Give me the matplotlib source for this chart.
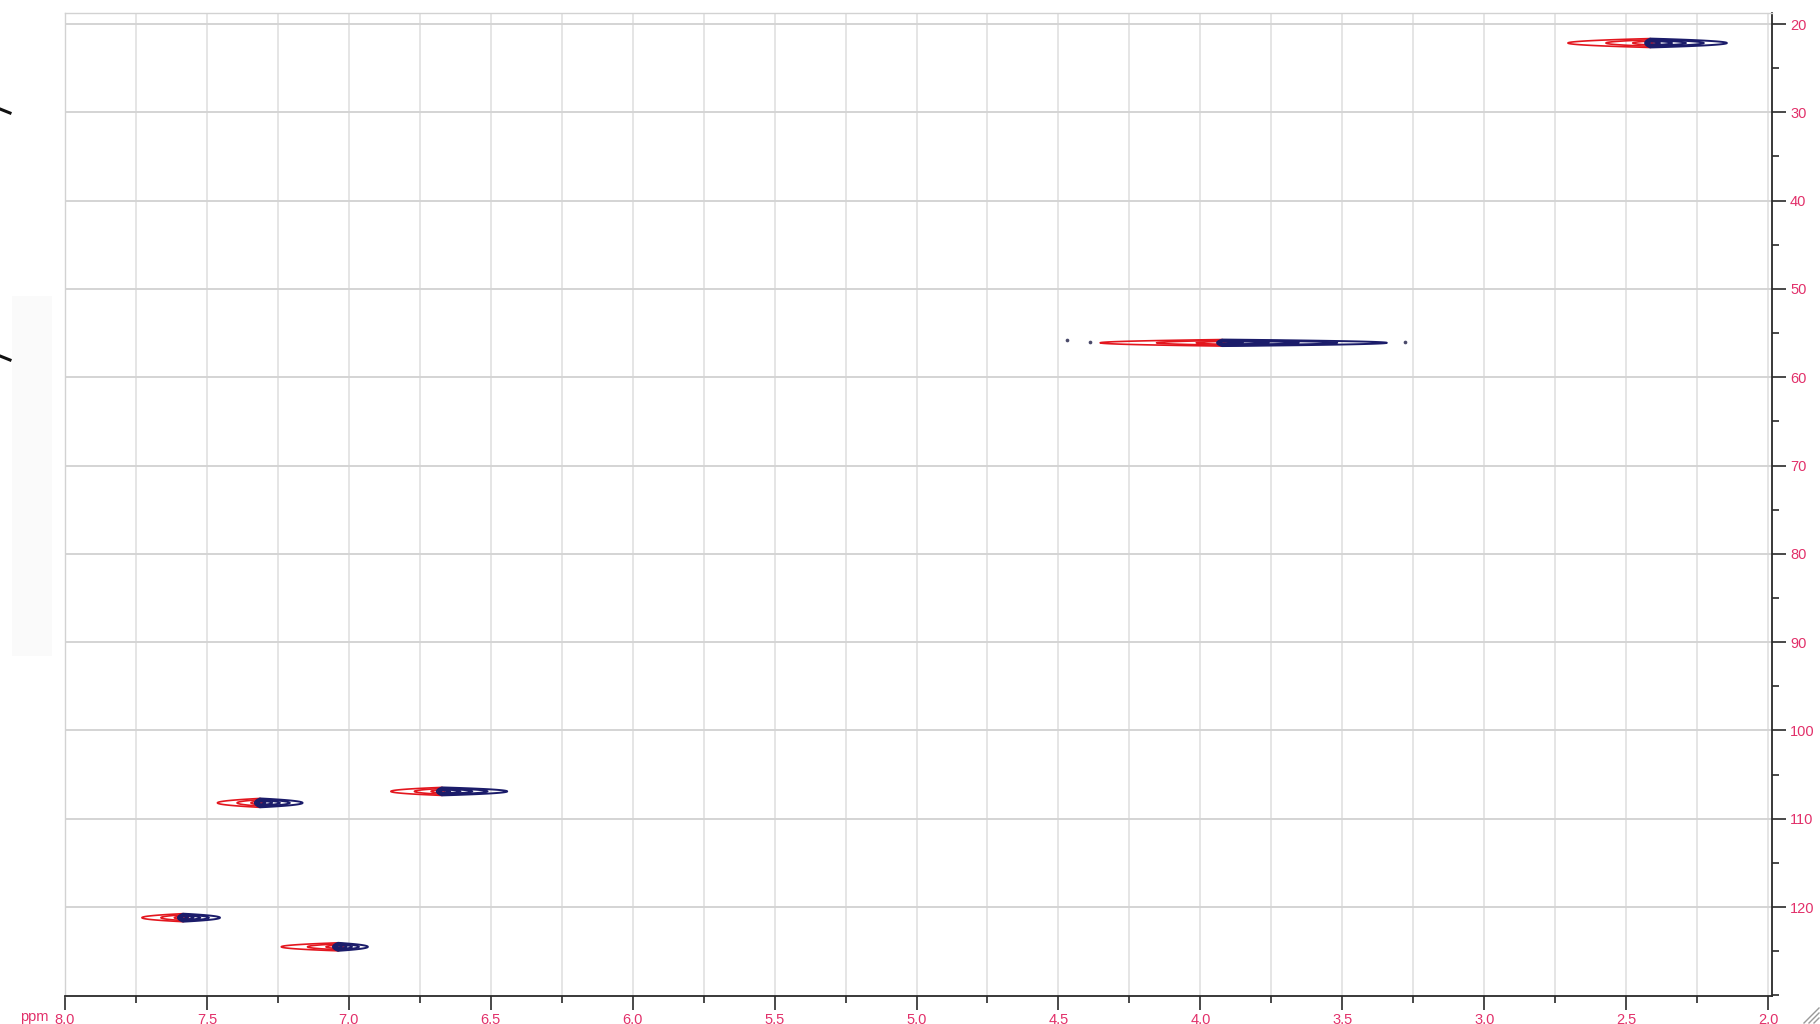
import numpy as np
import matplotlib
matplotlib.use("Agg")
import matplotlib.pyplot as plt
from matplotlib.ticker import MultipleLocator, FuncFormatter
from matplotlib.lines import Line2D
from matplotlib.patches import Rectangle

# HSQC cross peaks: junction position (1H, 13C) and extent of each overlaid spectrum
peak_h = [2.415, 3.923, 7.313, 6.672, 7.584, 7.038]      # 1H ppm
peak_c = [22.15, 56.1, 108.2, 106.9, 121.2, 124.5]       # 13C ppm
red_span = [0.29, 0.43, 0.15, 0.18, 0.145, 0.20]          # ppm toward low field
blue_span = [0.27, 0.58, 0.15, 0.23, 0.13, 0.105]         # ppm toward high field
peak_width_c = [0.30, 0.22, 0.30, 0.27, 0.27, 0.27]       # 13C line width

# weak isolated artefacts around the 56 ppm correlation
speck_h = [4.47, 4.39, 3.28]
speck_c = [55.8, 56.0, 56.0]

x_ticks = [8.0, 7.5, 7.0, 6.5, 6.0, 5.5, 5.0, 4.5, 4.0, 3.5, 3.0, 2.5, 2.0]
y_ticks = [20, 30, 40, 50, 60, 70, 80, 90, 100, 110, 120]

RED = "#e3161e"
NAVY = "#1b1c6a"
LABEL = "#e2306a"
GRID_V = "#dedede"
GRID_H = "#d4d4d4"

plt.rcParams["font.family"] = ["Liberation Sans", "DejaVu Sans"]

W, H = 1820, 1024
fig = plt.figure(figsize=(W / 100, H / 100), dpi=100)
fig.patch.set_facecolor("white")

ax = fig.add_axes([65 / W, 1 - 996 / H, (1772 - 65) / W, (996 - 13) / H])
ax.set_xlim(8.0, 1.986)
ax.set_ylim(130.07, 18.75)

# grid
for x in np.arange(8.0, 1.99, -0.25):
    ax.axvline(x, color=GRID_V, lw=1.1, zorder=0)
for y in y_ticks:
    ax.axhline(y, color=GRID_H, lw=1.4, zorder=0)


def lozenge(X, Y, x0, y0, ext_low, ext_high, h, floor=0.06):
    """Peak shape with exponential tails along 1H and Gaussian along 13C.
    ext_low: extent toward larger ppm, ext_high: toward smaller ppm."""
    k = np.log(1 / floor)
    dx = X - x0
    a = np.where(dx >= 0, ext_low, ext_high) / k
    return np.exp(-np.abs(dx) / a - ((Y - y0) / h) ** 2)


small = 0.018
red_levels = [0.06, 0.22, 0.55]
blue_levels = [0.06, 0.14, 0.27, 0.45, 0.7]
for ph, pc, rs, bs, wc in zip(peak_h, peak_c, red_span, blue_span, peak_width_c):
    xs = np.linspace(ph - bs - 0.05, ph + rs + 0.05, 900)
    ys = np.linspace(pc - 2.0, pc + 2.0, 300)
    X, Y = np.meshgrid(xs, ys)
    Zr = lozenge(X, Y, ph, pc, rs, small, wc)
    Zb = lozenge(X, Y, ph, pc, small, bs, wc)
    ax.contour(X, Y, Zr, levels=red_levels, colors=RED, linewidths=1.2, zorder=3)
    ax.contour(X, Y, Zb, levels=blue_levels, colors=NAVY, linewidths=1.4, zorder=4)

ax.scatter(speck_h, speck_c, s=7, color="#4a4a6a", zorder=4, linewidths=0)

# spines
for side in ("left", "top"):
    ax.spines[side].set_color("#d2d2d2")
    ax.spines[side].set_linewidth(1.0)
for side in ("right", "bottom"):
    ax.spines[side].set_color("#2a2a2a")
    ax.spines[side].set_linewidth(1.3)

# ticks
ax.xaxis.set_minor_locator(MultipleLocator(0.25))
ax.yaxis.set_minor_locator(MultipleLocator(5))
ax.set_xticks(x_ticks)
ax.set_yticks(y_ticks)
ax.xaxis.set_major_formatter(FuncFormatter(lambda v, p: f"{v:.1f}"))
ax.yaxis.set_major_formatter(FuncFormatter(lambda v, p: f"{v:.0f}"))
ax.yaxis.tick_right()
ax.yaxis.set_label_position("right")
ax.tick_params(axis="both", which="major", length=10, width=1.2, color="#2a2a2a",
               labelcolor=LABEL, labelsize=10.5)
ax.tick_params(axis="both", which="minor", length=5, width=1.2, color="#2a2a2a")
ax.tick_params(axis="x", which="major", pad=2)
ax.tick_params(axis="y", which="major", pad=3)
ax.tick_params(left=False, top=False, which="both")

ax.annotate("ppm", xy=(8.0, 0), xycoords=("data", "axes fraction"),
            xytext=(-16, -14), textcoords="offset pixels", ha="right", va="top",
            color=LABEL, fontsize=10.5)

# window decorations at the figure edges
fig.add_artist(Rectangle((12 / W, 1 - 656 / H), 40 / W, 360 / H,
                         transform=fig.transFigure, color="#fafafa", zorder=-1, lw=0))
for yy in (110, 357):
    fig.add_artist(Line2D([0 / W, 10 / W], [1 - (yy - 1) / H, 1 - (yy + 3) / H],
                          transform=fig.transFigure, color="#111111", lw=2.2))
for d in (6, 11, 16):
    fig.add_artist(Line2D([(W - d) / W, (W - 1) / W], [1 / H, (d) / H],
                          transform=fig.transFigure, color="#9a9a9a", lw=1))

fig.savefig("out.png", dpi=100, facecolor="white")
